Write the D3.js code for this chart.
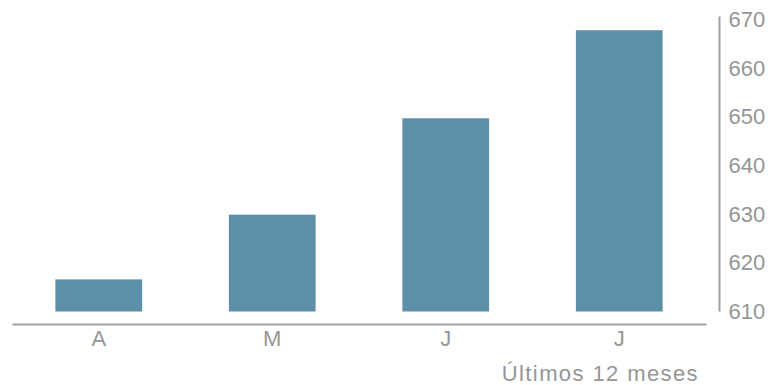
<!DOCTYPE html>
<html>
<head>
<meta charset="utf-8">
<script src="https://cdn.jsdelivr.net/npm/d3@7"></script>
<style>
  html, body { margin: 0; padding: 0; background: #fff; }
  svg text { font-family: "Liberation Sans", "DejaVu Sans", sans-serif; fill: #969696; }
</style>
</head>
<body>
<svg id="chart" width="771" height="385"></svg>
<script>
// Monthly values, last months of the 12-month window
const months = ["A", "M", "J", "J"];
const values = [616.6, 629.9, 649.7, 667.8];
const yTicks = [610, 620, 630, 640, 650, 660, 670];
const caption = "Últimos 12 meses";

const svg = d3.select("#chart");

const x = d3.scaleBand()
  .domain(d3.range(months.length))
  .range([12, 706])
  .paddingInner(0.5)
  .paddingOuter(0.25);

const y = d3.scaleLinear()
  .domain([610, 670])
  .range([311.5, 19.5]);

// Bars
svg.append("g")
  .selectAll("rect")
  .data(values)
  .join("rect")
  .attr("x", (d, i) => x(i))
  .attr("width", x.bandwidth())
  .attr("y", d => y(d))
  .attr("height", d => y(610) - y(d))
  .attr("fill", "#5d8fa8");

// Baseline axis with month letters
const xAxis = svg.append("g")
  .attr("transform", "translate(0,324)")
  .call(d3.axisBottom(x).tickSize(0).tickSizeOuter(0).tickPadding(6)
    .tickFormat(i => months[i]));
xAxis.select(".domain").attr("stroke", "#a0a0a0").attr("stroke-width", 2);
xAxis.selectAll("text")
  .attr("font-size", 22)
  .style("font-family", "Liberation Sans, sans-serif")
  .attr("fill", "#969696");

// Value axis on the right
const yAxis = svg.append("g")
  .attr("transform", "translate(719.5,0)")
  .call(d3.axisRight(y).tickValues(yTicks).tickSize(0).tickSizeOuter(0).tickPadding(9)
    .tickFormat(d3.format("d")));
yAxis.select(".domain")
  .attr("d", `M0,${y(670) - 3}V${y(610)}`)
  .attr("stroke", "#a0a0a0").attr("stroke-width", 2);
yAxis.selectAll("text")
  .attr("font-size", 22)
  .style("font-family", "Liberation Sans, sans-serif")
  .attr("fill", "#969696");

// Caption under the axis
svg.append("text")
  .attr("x", 699)
  .attr("y", 381)
  .attr("text-anchor", "end")
  .attr("font-size", 22)
  .attr("letter-spacing", 1.4)
  .text(caption);
</script>
</body>
</html>
